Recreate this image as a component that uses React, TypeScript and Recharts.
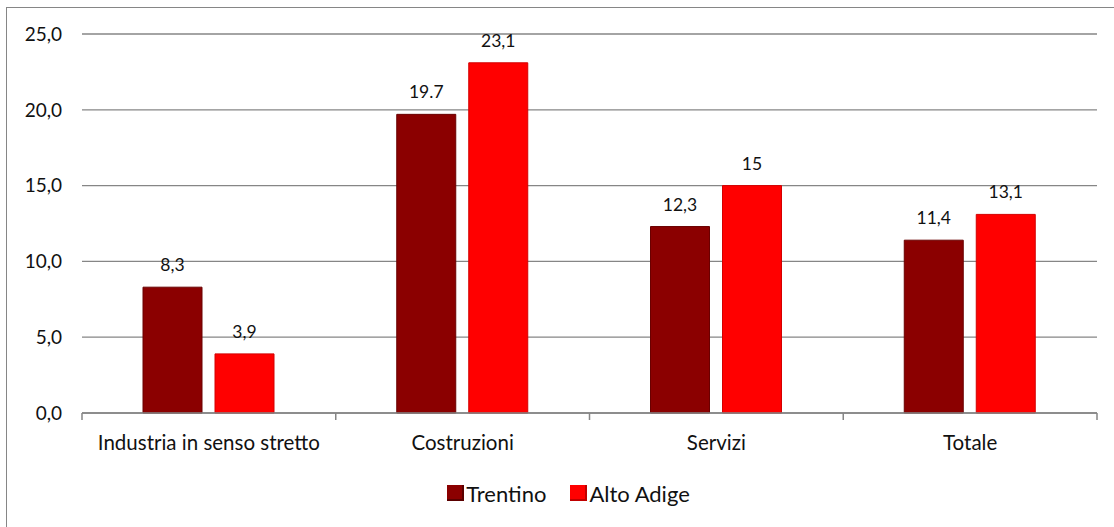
import React from 'react';
import { BarChart, Bar, XAxis, YAxis, CartesianGrid, Legend, LabelList } from 'recharts';

const categories = ['Industria in senso stretto', 'Costruzioni', 'Servizi', 'Totale'];
const trentino = [8.3, 19.7, 12.3, 11.4];
const altoAdige = [3.9, 23.1, 15, 13.1];
const trentinoLabels = ['8,3', '19.7', '12,3', '11,4'];
const altoAdigeLabels = ['3,9', '23,1', '15', '13,1'];
const yTicks = [0, 5, 10, 15, 20, 25];

const data = categories.map((c, i) => ({
  name: c,
  Trentino: trentino[i],
  'Alto Adige': altoAdige[i],
  tLabel: trentinoLabels[i],
  aLabel: altoAdigeLabels[i],
}));

const W = 1114;
const H = 527;
const MARGIN = { top: 34, right: 17, bottom: 0, left: 0 };
const YAXIS_W = 82;
const FONT = 'Lato, "Open Sans", sans-serif';
const GRID = '#868686';

const plotWidth = W - MARGIN.left - MARGIN.right - YAXIS_W;
const halfBand = plotWidth / categories.length / 2;

const CategoryTick = (props: any) => {
  const { x, y, payload, index } = props;
  const isLast = index === categories.length - 1;
  return (
    <g>
      <line x1={x - halfBand} x2={x - halfBand} y1={y - 8} y2={y - 1} stroke={GRID} strokeWidth={1.5} />
      {isLast && (
        <line x1={x + halfBand} x2={x + halfBand} y1={y - 8} y2={y - 1} stroke={GRID} strokeWidth={1.5} />
      )}
      <text x={x} y={y + 29} textAnchor="middle" fill="#111" fontSize={20.5} fontFamily={FONT}>
        {payload.value}
      </text>
    </g>
  );
};

const LegendContent = () => (
  <div
    style={{
      height: 68,
      display: 'flex',
      alignItems: 'center',
      justifyContent: 'center',
      paddingLeft: 23,
      fontFamily: FONT,
      fontSize: 22,
      color: '#111',
      boxSizing: 'border-box',
    }}
  >
    <span style={{ display: 'inline-block', width: 17, height: 16, background: '#8B0000', marginRight: 2, boxShadow: 'inset -2px -2px 0 #5a0000' }} />
    <span style={{ marginRight: 24 }}>Trentino</span>
    <span style={{ display: 'inline-block', width: 17, height: 16, background: '#FF0000', marginRight: 2, boxShadow: 'inset -2px -2px 0 #c00000' }} />
    <span>Alto Adige</span>
  </div>
);

export default function App() {
  return (
    <div style={{ position: 'absolute', left: 0, top: 0, width: W, height: H, background: '#fff' }}>
      <div
        style={{
          position: 'absolute',
          left: 6,
          top: 7,
          width: W - 6,
          height: H - 7,
          borderTop: `1px solid ${GRID}`,
          borderLeft: `1px solid ${GRID}`,
          boxSizing: 'border-box',
          pointerEvents: 'none',
        }}
      />
      <BarChart width={W} height={H} data={data} margin={MARGIN} barSize={59} barGap={13}>
        <CartesianGrid vertical={false} stroke={GRID} strokeWidth={1.3} />
        <XAxis
          dataKey="name"
          height={46}
          axisLine={{ stroke: GRID, strokeWidth: 1.5 }}
          tickLine={false}
          tick={<CategoryTick />}
          interval={0}
        />
        <YAxis
          width={YAXIS_W}
          domain={[0, 25]}
          ticks={yTicks}
          axisLine={false}
          tickLine={false}
          tickSize={0}
          tickMargin={20}
          tickFormatter={(v: number) => v.toFixed(1).replace('.', ',')}
          tick={{ fill: '#111', fontSize: 19, fontFamily: FONT }}
        />
        <Legend verticalAlign="bottom" content={<LegendContent />} wrapperStyle={{ left: 0, width: W, height: 68 }} />
        <Bar dataKey="Trentino" fill="#8B0000" stroke="#6a0000" strokeWidth={1} isAnimationActive={false}>
          <LabelList dataKey="tLabel" position="top" offset={16} fill="#111" stroke="none" fontSize={17.5} fontFamily={FONT} />
        </Bar>
        <Bar dataKey="Alto Adige" fill="#FF0000" stroke="#d40000" strokeWidth={1} isAnimationActive={false}>
          <LabelList dataKey="aLabel" position="top" offset={16} fill="#111" stroke="none" fontSize={17.5} fontFamily={FONT} />
        </Bar>
      </BarChart>
    </div>
  );
}
